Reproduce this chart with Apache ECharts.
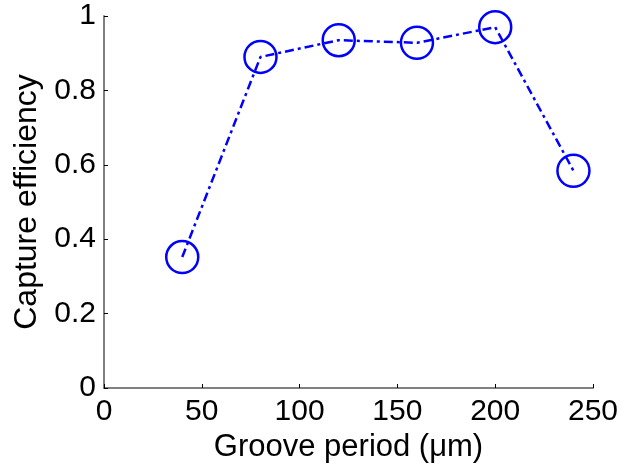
<!DOCTYPE html>
<html>
<head>
<meta charset="utf-8">
<script src="https://cdn.jsdelivr.net/npm/echarts@6/dist/echarts.min.js"></script>
<style>
html,body{margin:0;padding:0;background:#fff;}
#chart{width:622px;height:469px;}
</style>
</head>
<body>
<div id="chart"></div>
<script>
const groovePeriod = [40, 80, 120, 160, 200, 240];
const captureEfficiency = [0.352, 0.89, 0.935, 0.928, 0.97, 0.584];
const xTicks = [0, 50, 100, 150, 200, 250];
const yTicks = [0, 0.2, 0.4, 0.6, 0.8, 1];
const xTitle = 'Groove period (\u03bcm)';
const yTitle = 'Capture efficiency';

const font = '"Liberation Sans", Arial, Helvetica, sans-serif';
const chart = echarts.init(document.getElementById('chart'), null, {renderer: 'canvas'});
chart.setOption({
  backgroundColor: '#ffffff',
  animation: false,
  grid: {left: 104, right: 29, top: 16, bottom: 81, containLabel: false},
  xAxis: {
    type: 'value',
    min: xTicks[0], max: xTicks[xTicks.length - 1], interval: 50,
    name: xTitle, nameLocation: 'middle', nameGap: 40,
    nameTextStyle: {fontFamily: font, fontSize: 31, color: '#000'},
    axisLine: {show: true, onZero: false, lineStyle: {color: '#808080', width: 2}},
    axisTick: {show: true, inside: true, length: 4, lineStyle: {color: '#000', width: 1}},
    axisLabel: {fontFamily: font, fontSize: 30, color: '#000', margin: 9},
    splitLine: {show: false}
  },
  yAxis: {
    type: 'value',
    min: yTicks[0], max: yTicks[yTicks.length - 1], interval: 0.2,
    name: yTitle, nameLocation: 'middle', nameGap: 60,
    nameTextStyle: {fontFamily: font, fontSize: 32, color: '#000'},
    axisLine: {show: true, onZero: false, lineStyle: {color: '#808080', width: 2}},
    axisTick: {show: true, inside: true, length: 4, lineStyle: {color: '#000', width: 1}},
    axisLabel: {fontFamily: font, fontSize: 30, color: '#000', margin: 8,
      formatter: v => String(Math.round(v * 10) / 10)},
    splitLine: {show: false}
  },
  series: [{
    type: 'line',
    data: groovePeriod.map((x, i) => [x, captureEfficiency[i]]),
    symbol: 'circle',
    symbolSize: 32,
    showAllSymbol: true,
    lineStyle: {color: '#0000ff', width: 2.5, type: [9, 4, 3, 4]},
    itemStyle: {color: 'rgba(0,0,0,0)', borderColor: '#0000ff', borderWidth: 2.5},
    z: 3
  }]
});
</script>
</body>
</html>
